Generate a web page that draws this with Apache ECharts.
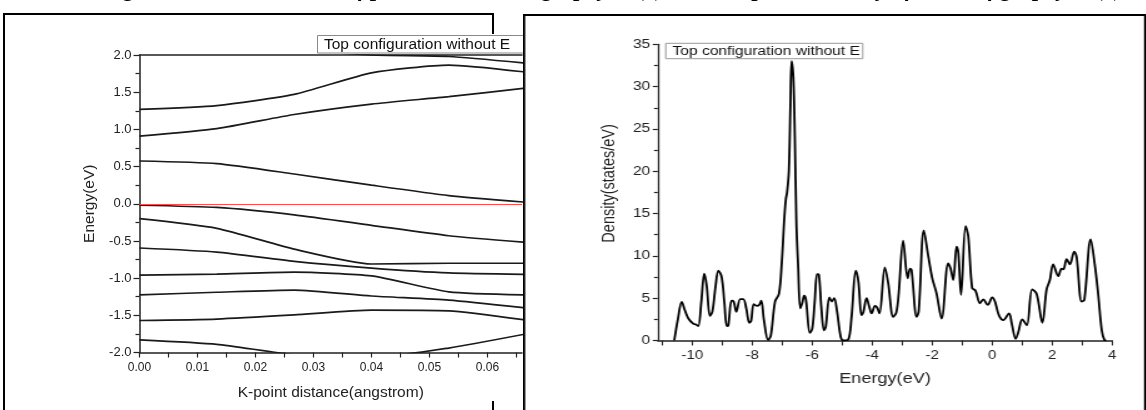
<!DOCTYPE html>
<html>
<head>
<meta charset="utf-8">
<title>Band structure and DOS</title>
<script src="https://cdn.jsdelivr.net/npm/echarts@6/dist/echarts.min.js"></script>
<style>
  html, body { margin: 0; padding: 0; background: #fff; }
  #page { position: relative; width: 1146px; height: 410px; overflow: hidden; }
  #left { position: absolute; left: 0; top: 0; width: 523px; height: 410px; }
  #right { position: absolute; left: 523px; top: 0; width: 623px; height: 410px; overflow: hidden; background: #fff; }
  /* the DOS picture in the source is stretched sideways */
  #rightInner { width: 498px; height: 410px; transform: scaleX(1.25); transform-origin: 0 0; }
  #caption {
    position: absolute; left: 0; top: -23.5px; width: 1146px; padding-left: 40px; text-align: center;
    font: italic bold 23px "Liberation Serif", "DejaVu Serif", serif; line-height: 23px;
    white-space: nowrap; color: #000; z-index: 5;
  }
</style>
</head>
<body>
<div id="page">
  <div id="left"></div>
  <div id="right"><div id="rightInner"></div></div>
  <div id="caption">Figure 2: Band structure of pristine armchair graphyne (a), and the partial density of states of graphyne (b)</div>
</div>
<script>
// band structure (left)
const kDistance = [0, 0.01333, 0.02667, 0.04, 0.05333, 0.06667];
const band1 = [2.3, 2.2, 2.08, 2.0, 1.98, 1.89];
const band2 = [1.27, 1.32, 1.47, 1.76, 1.865, 1.77];
const band3 = [0.91, 1.01, 1.2, 1.34, 1.44, 1.555];
const band4 = [0.575, 0.54, 0.4, 0.25, 0.11, 0.02];
const band5 = [-0.02, -0.05, -0.15, -0.29, -0.43, -0.52];
const band6 = [-0.2, -0.33, -0.61, -0.81, -0.8, -0.8];
const band7 = [-0.595, -0.65, -0.775, -0.865, -0.93, -0.95];
const band8 = [-0.96, -0.945, -0.92, -0.97, -1.185, -1.225];
const band9 = [-1.225, -1.19, -1.16, -1.24, -1.295, -1.4];
const band10 = [-1.57, -1.55, -1.495, -1.43, -1.44, -1.565];
const band11 = [-1.83, -1.89, -2.03, -2.07, -1.94, -1.75];
const bands = [band1, band2, band3, band4, band5, band6, band7, band8, band9, band10, band11];
const fermiLevel = 0;
const kTicks = [0, 0.005, 0.01, 0.015, 0.02, 0.025, 0.03, 0.035, 0.04, 0.045, 0.05, 0.055, 0.06, 0.065];
const kLabels = [0, 0.01, 0.02, 0.03, 0.04, 0.05, 0.06];

// density of states (right)
const dosEnergy = [
  -10.6, -10.48, -10.35, -10.25, -10.13, -9.97, -9.88, -9.8, -9.7, -9.6,
  -9.52, -9.41, -9.33, -9.22, -9.13, -9.02, -8.93, -8.85, -8.8, -8.69,
  -8.62, -8.53, -8.4, -8.3, -8.2, -8.1, -8.04, -7.95, -7.85, -7.77,
  -7.7, -7.61, -7.47, -7.38, -7.24, -7.11, -7.02, -6.93, -6.88, -6.84,
  -6.78, -6.73, -6.69, -6.63, -6.58, -6.53, -6.47, -6.4, -6.33, -6.27,
  -6.21, -6.08, -6.0, -5.92, -5.84, -5.78, -5.7, -5.61, -5.55, -5.43,
  -5.35, -5.27, -5.18, -5.05, -4.96, -4.8, -4.69, -4.55, -4.46, -4.36,
  -4.3, -4.19, -4.1, -4.02, -3.91, -3.84, -3.76, -3.58, -3.47, -3.3,
  -3.2, -3.12, -2.97, -2.82, -2.74, -2.69, -2.52, -2.45, -2.28, -2.13,
  -2.0, -1.86, -1.69, -1.47, -1.39, -1.3, -1.19, -1.13, -1.04, -0.89,
  -0.8, -0.67, -0.56, -0.41, -0.3, -0.15, 0.0, 0.09, 0.22, 0.37,
  0.56, 0.65, 0.78, 0.87, 1.0, 1.15, 1.33, 1.48, 1.67, 1.81,
  1.92, 2.03, 2.2, 2.31, 2.37, 2.48, 2.59, 2.73, 2.81, 2.98,
  3.07, 3.28, 3.42, 3.53, 3.65, 3.74, 3.8
];
const dosDensity = [
  0, 2.5, 4.55, 3.6, 2.6, 2.0, 1.9, 1.7, 4.5, 7.9,
  6.5, 2.9, 3.4, 6.5, 8.25, 7.5, 4.5, 1.7, 1.75, 4.7,
  4.6, 3.4, 4.9, 4.9, 3.8, 2.1, 2.3, 4.3, 4.1, 4.2,
  4.7, 2.4, 0.05, 0.6, 4.6, 5.5, 9.0, 14.5, 16.7, 17.5,
  20, 27.5, 33, 31, 24, 14, 8.7, 3.8, 4.5, 5.3,
  4.8, 0.9, 1.4, 4.5, 7.85, 7.8, 4.0, 1.2, 1.6, 5.1,
  4.6, 5.0, 3.6, 0.4, 0, 0.1, 2.8, 8.25, 6.9, 3.0,
  3.3, 5.0, 4.0, 3.2, 4.1, 3.9, 3.2, 8.65, 6.8, 2.8,
  3.3, 5.5, 11.8, 7.35, 8.5, 8.3, 2.8, 3.5, 13.0, 9.9,
  7.35, 5.6, 2.6, 9.1, 8.5, 7.15, 11.1, 10.3, 5.4, 13.5,
  12.3, 6.2, 5.9, 4.4, 4.85, 4.2, 5.1, 4.6, 3.0, 2.4,
  3.2, 2.0, 0.2, 1.0, 2.5, 1.8, 6.05, 5.5, 2.1, 6.0,
  7.15, 9.0, 7.6, 8.5, 8.4, 9.6, 9.0, 10.5, 9.9, 4.6,
  4.8, 11.96, 8.9, 5.5, 1.2, 0.05, 0
];
const energyTicks = [-11, -10, -9, -8, -7, -6, -5, -4, -3, -2, -1, 0, 1, 2, 3, 4];
const energyLabels = [-10, -8, -6, -4, -2, 0, 2, 4];

const legendText = 'Top configuration without E';
const font = '"Liberation Sans", Arial, sans-serif';
const ink = '#222';

const leftChart = echarts.init(document.getElementById('left'));
leftChart.setOption({
  animation: false,
  textStyle: { fontFamily: font },
  grid: { left: 139.5, top: 55, width: 382.5, height: 297.5 },
  xAxis: [{
    type: 'value', min: 0, max: 0.06595,
    name: 'K-point distance(angstrom)', nameLocation: 'middle', nameGap: 32,
    nameTextStyle: { fontSize: 15.5, color: ink, fontFamily: font },
    axisLine: { onZero: false, lineStyle: { color: ink, width: 1.5 } },
    axisTick: { customValues: kTicks, length: 5, lineStyle: { color: ink, width: 1.2 } },
    axisLabel: { customValues: kLabels, formatter: v => v.toFixed(2), fontSize: 12, color: ink, margin: 9 },
    splitLine: { show: false }
  }, {
    type: 'value', position: 'top', min: 0, max: 0.06595,
    axisLine: { show: true, onZero: false, lineStyle: { color: ink, width: 1.5 } },
    axisTick: { show: false }, axisLabel: { show: false }, splitLine: { show: false }
  }],
  yAxis: {
    type: 'value', min: -2, max: 2, interval: 0.5,
    name: 'Energy(eV)', nameLocation: 'middle', nameGap: 40,
    nameTextStyle: { fontSize: 15.5, color: ink, fontFamily: font },
    axisLine: { show: true, onZero: false, lineStyle: { color: ink, width: 1.5 } },
    axisTick: { length: 6, lineStyle: { color: ink, width: 1.2 } },
    minorTick: { show: true, splitNumber: 2, length: 4, lineStyle: { color: ink, width: 1.2 } },
    axisLabel: { formatter: v => v.toFixed(1), fontSize: 13, color: ink, margin: 8 },
    splitLine: { show: false }
  },
  series: bands.map((b, n) => ({
    type: 'line',
    data: kDistance.map((k, i) => [k, b[i]]),
    showSymbol: false, smooth: 0.2, silent: true,
    lineStyle: { color: '#1a1a1a', width: 1.7 },
    markLine: n === 0 ? {
      symbol: 'none', silent: true, label: { show: false },
      lineStyle: { color: '#ff4d4d', width: 1, type: 'solid' },
      data: [{ yAxis: fermiLevel }]
    } : undefined
  })),
  graphic: [
    { type: 'polyline', shape: { points: [[4, 430], [4, 14], [493, 14], [493, 34]] },
      style: { stroke: '#000', lineWidth: 2, fill: null } },
    { type: 'line', shape: { x1: 493, y1: 401, x2: 493, y2: 430 },
      style: { stroke: '#000', lineWidth: 2 } },
    { type: 'rect', z: 10, shape: { x: 317.5, y: 35.5, width: 230, height: 17.5 },
      style: { fill: '#fff', stroke: '#8a8a8a', lineWidth: 1 } },
    { type: 'text', z: 11, x: 324, y: 44.5,
      style: { text: legendText, fontSize: 15.5, fontFamily: font, fill: '#111', verticalAlign: 'middle', align: 'left' } }
  ]
});

const rightChart = echarts.init(document.getElementById('rightInner'));
rightChart.setOption({
  animation: false,
  textStyle: { fontFamily: font },
  grid: { left: 107.8, top: 44.3, width: 363.6, height: 296.2 },
  xAxis: {
    type: 'value', min: -11.15, max: 4,
    name: 'Energy(eV)', nameLocation: 'middle', nameGap: 31,
    nameTextStyle: { fontSize: 14.5, color: ink, fontFamily: font },
    axisLine: { onZero: false, lineStyle: { color: ink, width: 1.5 } },
    axisTick: { customValues: energyTicks, length: 5, lineStyle: { color: ink, width: 1.1 } },
    axisLabel: { customValues: energyLabels, fontSize: 12, color: ink, margin: 9 },
    splitLine: { show: false }
  },
  yAxis: {
    type: 'value', min: 0, max: 35, interval: 5,
    name: 'Density(states/eV)', nameLocation: 'middle', nameGap: 27,
    nameTextStyle: { fontSize: 14.5, color: ink, fontFamily: font, padding: [0, 0, 0, 18] },
    axisLine: { show: true, onZero: false, lineStyle: { color: ink, width: 1.3 } },
    axisTick: { length: 4, lineStyle: { color: ink, width: 1.2 } },
    minorTick: { show: true, splitNumber: 2, length: 3, lineStyle: { color: ink, width: 1.2 } },
    axisLabel: { fontSize: 12.5, color: ink, margin: 6 },
    splitLine: { show: false }
  },
  series: [{
    type: 'line',
    data: dosEnergy.map((e, i) => [e, dosDensity[i]]),
    showSymbol: false, smooth: 0.35, silent: true,
    lineStyle: { color: '#000', width: 1.8 }
  }],
  graphic: [
    { type: 'rect', shape: { x: 0.8, y: 15, width: 497, height: 420 },
      style: { fill: null, stroke: '#000', lineWidth: 2 } },
    { type: 'rect', z: 10, shape: { x: 114.2, y: 43.3, width: 157.6, height: 15.4 },
      style: { fill: '#fff', stroke: '#999', lineWidth: 1 } },
    { type: 'text', z: 11, x: 119.5, y: 51.2,
      style: { text: legendText, fontSize: 12.5, fontFamily: font, fill: '#111', verticalAlign: 'middle', align: 'left' } }
  ]
});
</script>
</body>
</html>
